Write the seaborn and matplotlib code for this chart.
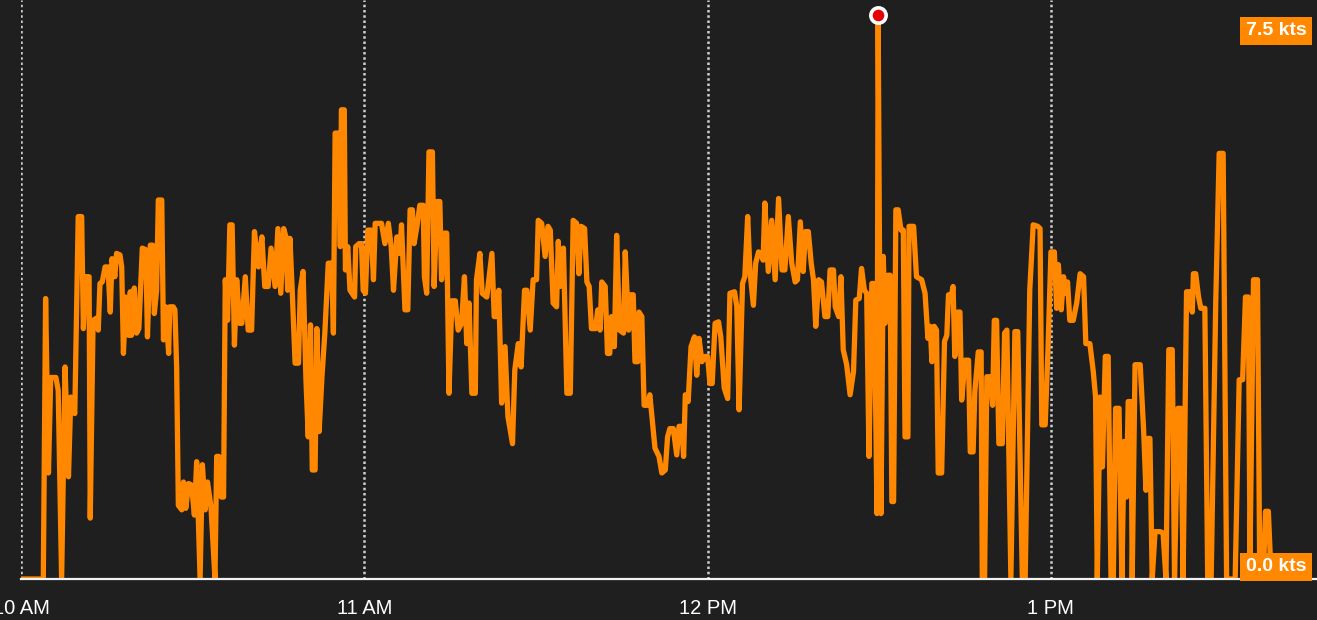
import pandas as pd
import seaborn as sns
import matplotlib.pyplot as plt

# boat speed track: minutes after 10:00 AM and speed in knots
minutes = [
    0.0, 3.9, 4.3, 4.8, 5.2, 6.1, 6.5, 7.1, 7.7, 8.3,
    8.7, 9.4, 10.0, 10.6, 10.9, 11.3, 11.9, 12.1, 12.6, 13.2,
    13.5, 13.8, 14.2, 14.7, 15.2, 15.6, 15.9, 16.4, 16.7, 17.3,
    17.6, 17.9, 18.3, 18.8, 19.1, 19.3, 19.8, 20.2, 20.6, 21.2,
    21.8, 22.1, 22.6, 23.0, 23.3, 23.7, 24.0, 24.6, 24.9, 25.3,
    25.8, 26.0, 26.6, 26.9, 27.2, 27.5, 28.1, 28.4, 28.8, 29.3,
    29.8, 30.3, 30.7,
    31.3, 31.7, 32.2, 32.6, 33.2, 33.9, 34.2, 34.6, 35.0, 35.4,
    35.7, 36.1, 36.5, 36.9, 37.3, 37.7, 38.2, 38.6, 39.2, 39.7,
    40.3, 40.8, 41.5, 42.1, 42.6, 43.2, 43.7, 44.4, 44.9, 45.4,
    45.9, 46.3, 46.6, 47.0, 47.4, 47.9, 48.5, 48.8, 49.3, 49.8,
    50.2, 50.6, 50.9, 51.4, 51.7, 52.1, 52.6, 53.1, 53.7, 54.3,
    54.6, 54.9, 55.5, 55.8, 56.0, 56.5, 56.7, 57.1, 57.5, 58.3,
    58.5, 59.1, 59.5, 59.8,
    60.2, 60.6, 61.2, 61.6, 61.9, 62.2, 63.0, 63.6, 64.2, 64.7,
    65.1, 65.7, 66.2, 66.5, 67.1, 67.6, 68.0, 68.4, 68.7, 69.2,
    69.7, 70.3, 70.5, 70.9, 71.3, 71.9, 72.2, 72.7, 73.2, 73.5,
    74.0, 74.4, 74.8, 75.3, 75.9, 76.4, 77.0, 77.5, 77.9, 78.3,
    78.8, 79.4, 79.6, 80.2, 80.6, 81.4, 82.3, 82.7, 83.1, 83.5,
    84.0, 84.6, 85.1, 85.9, 86.3, 86.9, 87.4, 88.0, 88.4, 89.0,
    89.5, 90.1, 90.4, 91.0, 91.6, 92.1, 92.5, 93.0, 93.6, 93.9,
    94.2, 94.8, 95.4, 96.0, 96.5, 97.1, 97.5, 97.9, 98.5, 98.9,
    99.3, 99.7, 100.4, 100.8, 101.2, 101.5, 102.1, 102.5, 102.9, 103.2,
    103.7, 104.1, 104.6, 105.3, 105.6, 106.2, 106.4, 107.0, 107.3, 107.8,
    108.0, 108.5, 108.9, 109.5, 109.9, 110.8, 111.5, 112.0, 112.6, 113.0,
    113.4, 114.0, 114.6, 115.0, 115.5, 115.8, 116.1, 116.6, 117.1, 117.7,
    118.1, 118.5, 119.0, 119.6,
    120.0, 120.4, 120.8, 121.3, 121.9, 122.3, 122.9, 123.5, 123.9, 124.7,
    125.1, 125.5, 126.1, 126.5, 127.0, 127.4, 128.0, 128.4, 128.9, 129.3,
    129.7, 130.0, 130.6, 131.2, 131.8, 132.4, 133.0, 133.5, 134.1, 134.7,
    135.3, 135.7, 136.2, 136.7, 137.1, 137.6, 138.1, 138.5, 138.9, 139.4,
    139.9, 140.5, 141.0, 141.4, 142.0, 142.3, 142.9, 143.3, 143.7, 144.3,
    144.9, 145.5, 145.9, 146.5, 146.9, 147.4, 147.8, 148.2, 148.7, 149.1,
    149.6, 149.8, 150.3, 150.7, 151.0, 151.5, 151.9, 152.2, 152.5, 152.9,
    153.3, 153.8, 154.2, 154.5, 155.0, 155.2, 156.0, 156.5, 157.4, 158.0,
    158.5, 158.9, 159.2, 159.6, 160.0, 160.3, 160.9, 161.4, 161.8, 162.1,
    162.5, 162.9, 163.2, 163.7, 164.1, 164.4, 165.0, 165.6, 165.9, 166.4,
    166.7, 167.3, 167.8, 168.0, 168.4, 168.8, 169.4, 169.8, 170.1, 170.5,
    170.9, 171.5, 171.9, 172.3, 173.0, 173.7, 174.2, 175.0, 175.5, 176.3,
    176.9, 177.7, 178.1, 178.4, 179.0, 179.5,
    180.0, 180.6, 181.0, 181.3, 181.8, 182.2, 182.6, 182.9, 183.3, 183.9,
    184.5, 185.1, 185.7, 186.1, 186.8, 187.4, 187.8, 188.1, 188.6, 189.0,
    189.5, 190.0, 190.5, 190.9, 191.3, 191.9, 192.4, 192.8, 193.2, 193.5,
    194.0, 194.2, 194.7, 195.6, 196.2, 196.6, 196.9, 197.3, 197.7, 198.2,
    199.1, 199.6, 200.1, 200.6, 201.2, 201.6, 202.2, 202.7, 203.1, 203.7,
    204.3, 204.7, 204.9, 205.3, 205.8, 206.2, 206.9, 207.4, 208.0, 208.8,
    209.4, 210.1, 210.7, 212.2, 212.9, 213.5, 214.0, 214.5, 214.8, 215.4,
    216.1, 216.5, 217.1, 217.5, 218.0, 218.5,
]

knots = [
    0.00, 0.00, 3.73, 1.41, 2.68, 2.68, 2.51, 0.00, 2.82, 1.36,
    2.42, 2.20, 4.82, 4.82, 3.33, 4.02, 4.02, 0.81, 3.44, 3.47,
    3.31, 3.93, 3.95, 4.15, 4.15, 3.55, 4.26, 4.02, 4.33, 4.31,
    4.15, 3.00, 3.75, 3.24, 3.82, 3.24, 3.87, 3.27, 3.33, 4.40,
    4.38, 3.22, 4.44, 4.44, 3.53, 3.84, 5.04, 5.04, 3.18, 3.62,
    3.00, 3.62, 3.62, 3.58, 2.82, 0.98, 0.92, 1.29, 0.94, 1.27,
    1.25, 0.85, 1.56,
    0.00, 1.52, 0.92, 1.29, 0.96, 0.00, 1.63, 1.63, 1.09, 1.09,
    3.98, 3.44, 4.71, 4.71, 3.11, 3.98, 3.40, 3.40, 4.02, 3.31,
    3.31, 4.62, 4.15, 4.55, 3.89, 3.89, 4.40, 3.89, 4.66, 3.80,
    4.66, 4.55, 3.84, 4.53, 3.84, 2.87, 2.87, 3.84, 4.09, 2.65,
    1.89, 3.38, 1.45, 1.45, 3.33, 1.96, 2.69, 3.27, 4.20, 4.20,
    3.27, 5.93, 5.93, 4.42, 6.24, 6.24, 4.11, 4.42, 3.84, 3.75,
    4.42, 4.46, 4.46, 3.84,
    3.80, 4.64, 4.64, 3.98, 4.73, 4.73, 4.73, 4.46, 4.73, 4.42,
    3.84, 4.55, 4.33, 4.71, 3.58, 3.58, 4.91, 4.91, 4.46, 4.69,
    4.97, 4.97, 4.02, 3.80, 5.68, 5.68, 3.89, 5.02, 5.02, 3.98,
    4.60, 4.60, 2.47, 3.70, 3.70, 3.31, 3.40, 4.02, 3.13, 3.67,
    2.47, 2.47, 3.98, 4.33, 3.80, 3.75, 4.33, 3.49, 3.49, 3.84,
    2.34, 3.09, 2.16, 1.80, 2.78, 3.13, 2.82, 3.84, 3.84, 3.31,
    3.98, 3.98, 4.77, 4.73, 4.29, 4.69, 4.64, 3.67, 3.62, 4.49,
    3.89, 4.40, 2.47, 2.47, 4.77, 4.73, 4.06, 4.69, 4.66, 3.95,
    3.89, 3.33, 3.33, 3.58, 3.31, 3.95, 3.89, 3.00, 3.00, 3.49,
    3.09, 4.57, 3.31, 3.27, 4.35, 3.31, 3.78, 3.78, 2.89, 2.89,
    3.55, 3.49, 2.31, 2.31, 2.45, 1.74, 1.63, 1.41, 1.45, 1.89,
    2.00, 2.00, 1.65, 2.03, 2.03, 1.63, 2.45, 2.36, 3.09, 3.22,
    2.71, 3.20, 2.89, 2.96,
    2.96, 2.60, 2.60, 3.40, 3.42, 3.22, 2.54, 2.40, 3.80, 3.82,
    3.62, 2.25, 3.93, 4.02, 4.82, 4.09, 3.64, 4.20, 4.35, 4.33,
    4.24, 5.00, 4.09, 4.77, 3.98, 5.06, 4.11, 4.11, 4.82, 4.20,
    3.95, 3.98, 4.75, 4.09, 4.62, 4.62, 4.20, 3.98, 3.36, 3.98,
    3.95, 3.49, 3.49, 4.11, 4.11, 3.62, 3.49, 4.02, 3.05, 2.85,
    2.45, 2.76, 3.71, 3.73, 4.13, 3.84, 3.80, 1.63, 3.93, 3.93,
    0.87, 7.50, 0.87, 4.29, 3.40, 4.04, 4.04, 1.03, 1.03, 4.91,
    4.91, 4.64, 4.64, 1.89, 1.89, 4.69, 4.69, 4.02, 3.98, 3.80,
    3.20, 3.36, 2.89, 3.36, 3.31, 1.41, 1.41, 3.16, 3.24, 3.78,
    3.73, 3.89, 2.96, 3.55, 3.55, 2.38, 2.91, 2.91, 1.69, 1.69,
    2.49, 3.02, 3.02, 0.00, 0.00, 2.69, 2.69, 2.31, 3.44, 3.44,
    1.80, 1.80, 3.27, 3.31, 0.00, 3.29, 3.29, 0.00, 0.00, 3.84,
    4.71, 4.69, 4.66, 2.05, 2.05, 3.09,
    4.35, 4.35, 3.60, 4.18, 3.58, 4.02, 3.80, 3.95, 3.44, 3.44,
    3.67, 4.06, 4.02, 3.13, 3.13, 2.76, 2.42, 0.00, 2.42, 1.49,
    2.96, 2.96, 0.00, 0.00, 2.27, 2.27, 0.00, 1.83, 1.09, 2.36,
    2.36, 0.00, 2.85, 2.85, 1.98, 1.18, 1.87, 1.87, 0.00, 0.63,
    0.63, 0.61, 0.00, 3.05, 3.05, 0.00, 2.27, 2.27, 0.00, 3.82,
    3.82, 3.55, 4.06, 4.06, 3.75, 3.60, 3.60, 0.00, 0.00, 3.67,
    5.66, 5.66, 0.00, 0.00, 2.65, 2.65, 3.75, 3.75, 0.34, 3.98,
    3.98, 0.00, 0.00, 0.90, 0.90, 0.00,
]

hour_ticks = [0, 60, 120, 180]
hour_labels = ["10 AM", "11 AM", "12 PM", "1 PM"]
max_label = "7.5 kts"
min_label = "0.0 kts"

df = pd.DataFrame({"minute": minutes, "kts": knots})

bg = "#1f1f1f"
orange = "#ff8800"

sns.set_style("dark", {"axes.facecolor": bg, "figure.facecolor": bg})
plt.rcParams["font.family"] = ["Liberation Sans", "DejaVu Sans"]

fig = plt.figure(figsize=(13.17, 6.2), dpi=100)
ax = fig.add_axes([21 / 1317, 41 / 620, 1296 / 1317, 579 / 620])
ax.set_facecolor(bg)

sns.lineplot(data=df, x="minute", y="kts", ax=ax, color=orange, lw=3.8,
             estimator=None, sort=False, zorder=3)

# marker on the top speed
top = df.loc[df["kts"].idxmax()]
ax.plot(top["minute"], top["kts"], "o", ms=11, mfc="#e60000", mec="white",
        mew=2.6, zorder=6, clip_on=False)

ax.set_xlim(0, 226.5)
ax.set_ylim(0, 7.7)
ax.set_xticks(hour_ticks)
ax.set_xticklabels(hour_labels)
ax.set_yticks([])
ax.set(xlabel="", ylabel="")

ax.grid(axis="x", color="#cfcfcf", ls=(0, (1, 1.1)), lw=1.8)
ax.grid(axis="y", visible=False)
ax.set_axisbelow(True)

for side in ["top", "left", "right"]:
    ax.spines[side].set_visible(False)
ax.spines["bottom"].set_color("#f2f2f2")
ax.spines["bottom"].set_linewidth(1.6)
ax.spines["bottom"].set_zorder(5)
ax.tick_params(axis="x", direction="inout", length=11, width=1.6,
               color="#f2f2f2", labelcolor="white", labelsize=14.5, pad=9)

box = dict(boxstyle="square,pad=0.3", fc=orange, ec="none")
ax.text(0.992, 0.9465, max_label, transform=ax.transAxes, ha="right",
        va="center", color="white", fontsize=14, fontweight="bold", bbox=box, zorder=7)
ax.text(0.992, 0.021, min_label, transform=ax.transAxes, ha="right",
        va="center", color="white", fontsize=14, fontweight="bold", bbox=box, zorder=7)

fig.savefig("out.png", dpi=100, facecolor=bg)
